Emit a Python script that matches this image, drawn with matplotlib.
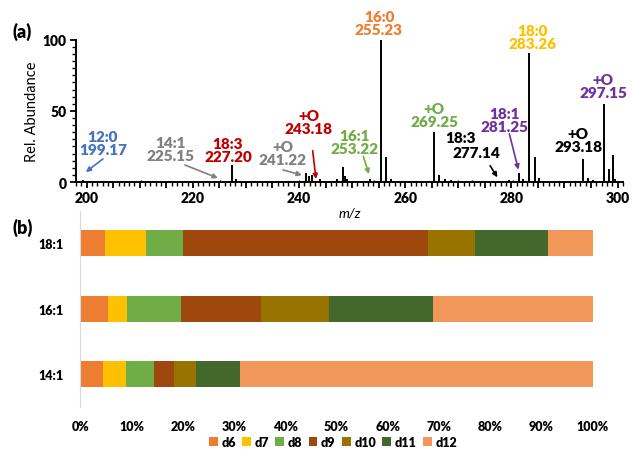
import matplotlib
matplotlib.use("Agg")
import matplotlib.pyplot as plt
from matplotlib.ticker import MultipleLocator, FuncFormatter

plt.rcParams['font.family'] = ['Lato', 'DejaVu Sans']
plt.rcParams['font.weight'] = 'heavy'

# spectrum peaks (m/z, relative abundance)
peak_mz = [199.34, 227.3, 228.1, 241.25, 241.93, 242.38, 243.95, 247.09, 248.22, 248.6,
           248.98, 253.37, 255.4, 256.44, 257.27, 265.37, 266.32, 267.5, 268.58, 277.74,
           279.5, 281.4, 282.26, 283.4, 284.52, 285.16, 293.45, 294.45, 295.34, 297.38,
           298.41, 299.11, 299.5]
peak_int = [1.5, 12.2, 2.0, 6.3, 4.4, 5.0, 2.0, 2.5, 10.5, 4.0,
            2.0, 2.0, 100.0, 17.6, 2.0, 35.5, 4.7, 2.0, 1.5, 1.0,
            1.5, 6.6, 2.0, 90.5, 17.8, 3.0, 16.2, 3.0, 1.5, 54.5,
            9.4, 19.0, 2.0]
noise_mz = [201.2, 203.5, 205.1, 207.0, 210.3, 212.5, 214.2, 216.0, 218.8, 221.0,
            223.4, 225.1, 229.5, 231.0, 233.2, 235.0, 236.8, 238.5, 240.0, 244.6,
            246.0, 250.5, 252.0, 254.2, 259.0, 260.5, 262.0, 263.5, 270.0, 271.3,
            272.5, 274.0, 275.5, 276.5, 278.8, 280.3, 287.0, 289.0, 290.5, 292.0, 296.0]
noise_int = [0.8, 0.6, 1.0, 0.7, 1.2, 0.6, 0.9, 0.7, 1.0, 0.6,
             0.8, 1.1, 0.9, 0.7, 0.8, 1.0, 0.6, 0.9, 1.2, 0.8,
             1.0, 0.7, 0.9, 1.2, 0.8, 0.6, 1.0, 0.7, 1.3, 0.9,
             1.1, 0.8, 0.9, 1.0, 0.8, 1.2, 0.7, 0.9, 0.6, 0.8, 1.0]

# annotations: text, colour, text centre (mz, abund), arrow start, arrow tip
labels = [
    ("12:0\n199.17", "#4472C4", (203.05, 27.5), (203.05, 16.2), (199.84, 7.0)),
    ("14:1\n225.15", "#808080", (215.86, 23.2), (218.5, 12.0), (224.72, 2.8)),
    ("18:3\n227.20", "#C00000", (226.6, 22.5), None, None),
    ("+O\n241.22", "#808080", (236.97, 20.1), (236.97, 8.5), (240.55, 4.9)),
    ("+O\n243.18", "#C00000", (241.87, 41.9), (242.57, 22.0), (243.19, 2.1)),
    ("16:1\n253.22", "#70AD47", (250.54, 28.2), (252.1, 18.1), (253.18, 5.6)),
    ("16:0\n255.23", "#ED7D31", (255.06, 111.6), None, None),
    ("+O\n269.25", "#70AD47", (265.43, 47.2), None, None),
    ("18:3", "black", (270.33, 31.5), None, None),
    ("277.14", "black", (273.48, 20.9), (276.0, 11.5), (277.36, 3.3)),
    ("18:1\n281.25", "#7030A0", (278.62, 43.7), (279.62, 33.8), (281.32, 8.7)),
    ("18:0\n283.26", "#FFC000", (283.9, 102.1), None, None),
    ("+O\n293.18", "black", (292.57, 29.6), None, None),
    ("+O\n297.15", "#7030A0", (297.28, 67.3), None, None),
]

# panel b: positional distribution (%)
species = ["14:1", "16:1", "18:1"]
positions = ["d6", "d7", "d8", "d9", "d10", "d11", "d12"]
shares = {
    "14:1": [4.4, 4.5, 5.4, 4.0, 4.2, 8.6, 68.9],
    "16:1": [5.5, 3.6, 10.5, 15.7, 13.2, 20.3, 31.2],
    "18:1": [4.8, 8.0, 7.3, 47.8, 9.1, 14.3, 8.7],
}
pos_colors = ["#ED7D31", "#FFC000", "#70AD47", "#9E480E", "#997300", "#43682B", "#F1975A"]

fig = plt.figure(figsize=(6.32, 4.52), dpi=100)

# ---- (b) stacked bars (drawn first so the m/z label of (a) stays on top)
bx = fig.add_axes([0.127, 0.097, 0.811, 0.435])
bx.patch.set_alpha(0)
left = [0.0] * len(species)
for j, pos in enumerate(positions):
    vals = [shares[sp][j] for sp in species]
    bx.barh(species, vals, left=left, height=0.4, color=pos_colors[j], label=pos)
    left = [a + b for a, b in zip(left, vals)]
bx.set_xlim(0, 100)
bx.set_ylim(-0.5, 2.5)
bx.xaxis.set_major_locator(MultipleLocator(10))
bx.xaxis.set_major_formatter(FuncFormatter(lambda v, p: f"{v:.0f}%"))
for s in ["top", "right", "bottom"]:
    bx.spines[s].set_visible(False)
bx.spines["left"].set_color("#D9D9D9")
bx.tick_params(axis="both", length=0, labelsize=9)
bx.tick_params(axis="x", pad=9)
bx.tick_params(axis="y", pad=12)
bx.legend(loc="center", bbox_to_anchor=(0.493, -0.175), ncol=7, frameon=False,
          fontsize=9, handlelength=0.7, handleheight=0.7, handletextpad=0.3,
          columnspacing=0.5, borderaxespad=0)

# ---- (a) spectrum
ax = fig.add_axes([0.120, 0.595, 0.866, 0.315])
ax.patch.set_alpha(0)
ax.vlines(noise_mz, 0, noise_int, color="black", lw=1.0)
ax.vlines(peak_mz, 0, peak_int, color="black", lw=1.4)
ax.set_xlim(197.96, 301.05)
ax.set_ylim(0, 100)
for s in ["top", "right"]:
    ax.spines[s].set_visible(False)
for s in ["left", "bottom"]:
    ax.spines[s].set_linewidth(1.4)
ax.xaxis.set_major_locator(MultipleLocator(5))
ax.xaxis.set_minor_locator(MultipleLocator(1))
ax.xaxis.set_major_formatter(FuncFormatter(lambda v, p: f"{v:.0f}" if round(v) % 20 == 0 else ""))
ax.yaxis.set_major_locator(MultipleLocator(50))
ax.yaxis.set_minor_locator(MultipleLocator(5))
ax.tick_params(axis="both", which="major", length=4.5, width=1.3, labelsize=10, pad=2)
ax.tick_params(axis="both", which="minor", length=3, width=1.0)
ax.set_ylabel("Rel. Abundance", fontsize=10.5, labelpad=3)
ax.set_xlabel("m/z", fontsize=10, style="italic", labelpad=2)

for txt, col, tpos, astart, atip in labels:
    ax.text(tpos[0], tpos[1], txt, color=col, ha="center", va="center",
            fontsize=11, linespacing=1.0, clip_on=False)
    if astart is not None:
        ax.annotate("", xy=atip, xytext=astart,
                    arrowprops=dict(arrowstyle="-|>", color=col, lw=1.2, mutation_scale=7,
                                    shrinkA=0, shrinkB=0))

fig.text(0.02, 0.93, "(a)", fontsize=13, va="center")
fig.text(0.02, 0.495, "(b)", fontsize=13, va="center")

fig.savefig("out.png", dpi=100)
